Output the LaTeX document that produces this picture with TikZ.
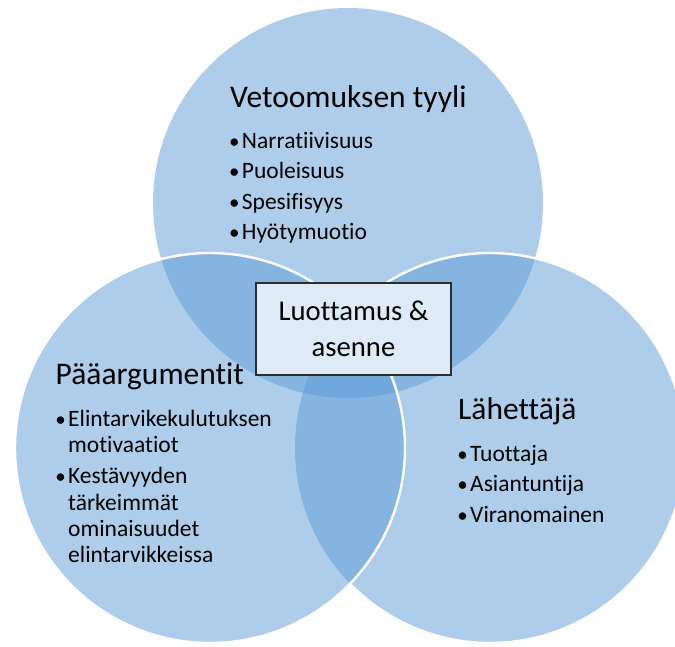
\documentclass[tikz,border=0pt]{standalone}
\usepackage{fontspec}
\setmainfont{Carlito}[Ligatures={NoCommon,NoDiscretionary}]
\definecolor{vennblue}{RGB}{91,155,213}
\definecolor{boxfill}{RGB}{222,235,247}
\definecolor{boxline}{RGB}{45,45,45}
\tikzset{
  venn/.style={fill=vennblue, fill opacity=0.5},
  vennline/.style={draw=white, line width=2.4pt},
  titletxt/.style={inner sep=0pt, anchor=base west, font=\fontsize{31.5}{38}\selectfont},
  itemtxt/.style={inner sep=0pt, anchor=base west, font=\fontsize{23.5}{28}\selectfont},
  bulletmark/.style={inner sep=0pt, anchor=base east, xshift=-2pt, font=\fontsize{21}{28}\selectfont},
  trustbox/.style={draw=boxline, line width=1.3pt, fill=boxfill, inner sep=0pt,
    minimum width=195pt, minimum height=92pt, align=center,
    font=\fontsize{28.7}{36}\selectfont}
}
\begin{document}
\begin{tikzpicture}[x=1pt,y=-1pt]
\useasboundingbox (0,0) rectangle (675,646);
\begin{scope}
  \clip (0,0) rectangle (675,646);
  % circles
  \coordinate (ctop) at (348,203);
  \coordinate (cleft) at (210,448);
  \coordinate (cright) at (490,448);
  \fill[venn] (ctop) circle (195);
  \fill[venn] (cright) circle (195);
  \fill[venn] (cleft) circle (195);
  % white outline of the right circle, visible outside the left circle
  \begin{scope}
    \clip (350,-10) rectangle (700,700);
    \draw[vennline] (cright) circle (195);
  \end{scope}
  % white outline of the left circle, on top
  \draw[vennline] (cleft) circle (195);
\end{scope}

% top circle texts
\node[titletxt] (ttop) at (230,107) {Vetoomuksen tyyli};
\node[bulletmark] (bt1) at (241.7,148) {•};
\node[itemtxt] (it1) at (241.7,148) {Narratiivisuus};
\node[bulletmark] (bt2) at (241.7,178.5) {•};
\node[itemtxt] (it2) at (241.7,178.5) {Puoleisuus};
\node[bulletmark] (bt3) at (241.7,209) {•};
\node[itemtxt] (it3) at (241.7,209) {Spesifisyys};
\node[bulletmark] (bt4) at (241.7,239.5) {•};
\node[itemtxt] (it4) at (241.7,239.5) {Hyötymuotio};

% left circle texts
\node[titletxt] (tleft) at (55.5,384) {Pääargumentit};
\node[bulletmark] (bl1) at (68,426.7) {•};
\node[itemtxt] (il1) at (68,426.7) {Elintarvikekulutuksen};
\node[itemtxt] (il1b) at (68,452.7) {motivaatiot};
\node[bulletmark] (bl2) at (68,483) {•};
\node[itemtxt] (il2) at (68,483) {Kestävyyden};
\node[itemtxt] (il2b) at (68,510) {tärkeimmät};
\node[itemtxt] (il2c) at (68,536.7) {ominaisuudet};
\node[itemtxt] (il2d) at (68,562.7) {elintarvikkeissa};

% right circle texts
\node[titletxt] (tright) at (458,419.3) {Lähettäjä};
\node[bulletmark] (br1) at (470,461.7) {•};
\node[itemtxt] (ir1) at (470,461.7) {Tuottaja};
\node[bulletmark] (br2) at (470,491.7) {•};
\node[itemtxt] (ir2) at (470,491.7) {Asiantuntija};
\node[bulletmark] (br3) at (470,522.7) {•};
\node[itemtxt] (ir3) at (470,522.7) {Viranomainen};

% centre box
\node[trustbox] (trust) at (353.5,329) {Luottamus \&\\asenne};
\end{tikzpicture}
\end{document}
